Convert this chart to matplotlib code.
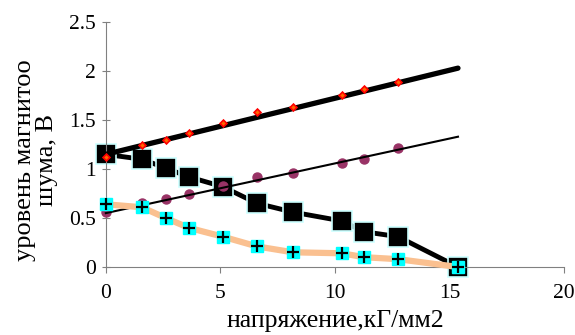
import matplotlib
matplotlib.use("Agg")
import matplotlib.pyplot as plt
import numpy as np

# values
x_pts = [0, 1.57, 2.62, 3.62, 5.1, 6.6, 8.17, 10.3, 11.27, 12.75]
red_y = [1.12, 1.25, 1.30, 1.37, 1.47, 1.58, 1.63, 1.76, 1.82, 1.89]
purple_y = [0.56, 0.65, 0.69, 0.75, 0.83, 0.92, 0.96, 1.06, 1.10, 1.21]

sq_x = [0, 1.57, 2.62, 3.62, 5.1, 6.6, 8.17, 10.3, 11.27, 12.75, 15.37]
sq_y = [1.15, 1.10, 1.01, 0.92, 0.82, 0.65, 0.56, 0.47, 0.36, 0.31, 0.0]
cy_y = [0.64, 0.61, 0.50, 0.40, 0.31, 0.21, 0.15, 0.14, 0.10, 0.08, 0.0]

fit_x = [0, 15.37]
fit_red = [1.15, 2.03]
fit_purple = [0.55, 1.33]

plt.rcParams['font.family'] = ['Liberation Serif', 'DejaVu Serif']

fig = plt.figure(figsize=(5.75, 3.35), dpi=100)
ax = fig.add_axes([0.184, 0.203, 0.797, 0.731])

ax.plot(sq_x, sq_y, color='black', lw=3.5, marker='s', ms=14.5,
        mfc='black', mec='#ccffff', mew=1.2, zorder=2)
ax.plot(fit_x, fit_red, color='black', lw=3.8, solid_capstyle='round', zorder=3)
ax.plot(fit_x, fit_purple, color='black', lw=1.5, zorder=4)
ax.plot(x_pts, red_y, ls='none', marker='D', ms=3.5, mfc='#ff6600', mec='red',
        mew=1.2, zorder=5)
ax.plot(x_pts, purple_y, ls='none', marker='o', ms=6.5, color='#993366', zorder=3.5)
ax.plot(sq_x, cy_y, color='#fac090', lw=4.5, zorder=5, solid_joinstyle='round')
ax.plot(sq_x, cy_y, ls='none', marker='s', ms=8, mfc='#00ffff', mec='#00ffff', zorder=6)
ax.plot(sq_x, cy_y, ls='none', marker='+', ms=8, mew=1.6, color='black', zorder=7)

ax.set_xlim(0, 20)
ax.set_ylim(0, 2.5)
ax.set_xticks([0, 5, 10, 15, 20])
ax.set_yticks([0, 0.5, 1, 1.5, 2, 2.5])
ax.set_yticklabels(['0', '0.5', '1', '1.5', '2', '2.5'])
for s in ['top', 'right']:
    ax.spines[s].set_visible(False)
for s in ['left', 'bottom']:
    ax.spines[s].set_color('#808080')
ax.tick_params(axis='y', direction='inout', length=6, color='#808080', labelsize=15.5, pad=4)
ax.tick_params(axis='x', direction='out', length=4, color='#808080', labelsize=15.5, pad=8)
for line in ax.lines:
    line.set_clip_on(False)

ax.set_xlabel('напряжение,кГ/мм2', fontsize=18.5)
ax.xaxis.set_label_coords(0.5, -0.175)
ax.set_ylabel('уровень магнитоо\nшума, В', fontsize=19, linespacing=1.0)
ax.yaxis.set_label_coords(-0.105, 0.437)

fig.savefig('out.png', dpi=100)
